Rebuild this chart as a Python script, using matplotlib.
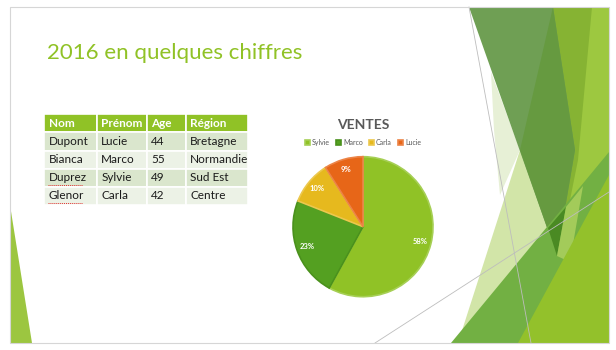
import matplotlib
matplotlib.use('Agg')
import matplotlib.pyplot as plt
from matplotlib.patches import Polygon, Rectangle

plt.rcParams['font.family'] = ['Lato', 'DejaVu Sans']

# slide content
titre = '2016 en quelques chiffres'
colonnes = ['Nom', 'Prénom', 'Age', 'Région']
noms = ['Dupont', 'Bianca', 'Duprez', 'Glenor']
prenoms = ['Lucie', 'Marco', 'Sylvie', 'Carla']
ages = [44, 55, 49, 42]
regions = ['Bretagne', 'Normandie', 'Sud Est', 'Centre']

vendeurs = ['Sylvie', 'Marco', 'Carla', 'Lucie']
ventes = [58, 23, 10, 9]
couleurs = ['#90C226', '#54A021', '#E6B91E', '#E76618']
bords = ['#a6cf55', '#4a911c', '#ecc84e', '#ec8447']

W, H = 616, 350
fig = plt.figure(figsize=(W / 100, H / 100), dpi=100)
fig.patch.set_facecolor('white')

# background axes in pixel units (y down)
ax = fig.add_axes([0, 0, 1, 1])
ax.set_xlim(0, W)
ax.set_ylim(H, 0)
ax.axis('off')

# facet theme decoration
facettes = [
	('#9dc840', [(549, 7), (609, 7), (609, 343), (520, 343)]),
	('#86b333', [(549, 7), (592, 7), (578, 160), (560, 250)]),
	('#d2e5a8', [(520, 150), (562, 262), (522, 343), (458, 343)]),
	('#e7f0d6', [(491, 72), (520, 150), (500, 195), (494, 130)]),
	('#6f9f54', [(469, 7), (553, 7), (575, 150), (557, 256)]),
	('#669a40', [(553, 7), (520, 150), (557, 256), (575, 150)]),
	('#72b043', [(451, 343), (609, 152), (609, 343)]),
	('#4a8a23', [(548, 228), (566, 207), (557, 256)]),
	('#a3cb5a', [(566, 207), (583, 186), (570, 262), (557, 256)]),
	('#93c12b', [(518, 343), (609, 175), (609, 343)]),
	('#9cc640', [(10, 205), (32, 343), (10, 343)]),
]
for c, pts in facettes:
	ax.add_patch(Polygon(pts, closed=True, facecolor=c, edgecolor='none', zorder=1))

for (x0, y0), (x1, y1) in [((469, 7), (531, 343)), ((375, 343), (609, 192))]:
	ax.plot([x0, x1], [y0, y1], color='#bdbdbd', lw=0.6, zorder=2)

ax.add_patch(Rectangle((9.5, 6.5), 599.5, 336.5, fill=False, edgecolor='#d6d6d6', lw=0.8, zorder=3))

# title
ax.text(47, 53, titre, fontsize=16, color='#90C226', va='center', ha='left', zorder=4)

# table
cell_text = [[n, p, str(a), r] for n, p, a, r in zip(noms, prenoms, ages, regions)]
larg = [52.7, 50, 39, 62.6]
x0, y0, x1, y1 = 44, 114.3, 248.3, 205
tab = ax.table(cellText=cell_text, colLabels=colonnes, cellLoc='left', colLoc='left',
               colWidths=larg, bbox=[x0 / W, 1 - y1 / H, (x1 - x0) / W, (y1 - y0) / H])
tab.auto_set_font_size(False)
tab.set_zorder(4)
for (r, c), cell in tab.get_celld().items():
	cell.set_edgecolor('white')
	cell.set_linewidth(1.2)
	cell.PAD = 4.5 / larg[c]
	txt = cell.get_text()
	txt.set_fontsize(8.5)
	if r == 0:
		cell.set_facecolor('#90C226')
		txt.set_color('white')
		txt.set_fontweight('bold')
	else:
		cell.set_facecolor('#dae6cd' if r % 2 == 1 else '#ecf2e6')
		txt.set_color('#1a1a1a')

# spell check squiggles
for xa, xb, y in [(48, 83, 185), (48, 82, 203)]:
	ax.plot([xa, xb], [y, y], color='#e03030', lw=0.7, ls=(0, (1, 1)), zorder=5)

# pie chart
cx, cy, rad = 363, 226.7, 70
k = 1.1
axp = fig.add_axes([(cx - k * rad) / W, (H - cy - k * rad) / H, 2 * k * rad / W, 2 * k * rad / H])
wedges, _, autotexts = axp.pie(ventes, colors=couleurs, startangle=90, counterclock=False,
                               autopct='%.0f%%', pctdistance=0.85,
                               textprops=dict(color='white', fontsize=5.5, fontweight='bold'),
                               wedgeprops=dict(linewidth=1.2))
for w, b in zip(wedges, bords):
	w.set_edgecolor(b)
axp.set_xlim(-k, k)
axp.set_ylim(-k, k)
axp.set_aspect('auto')
axp.patch.set_alpha(0)

haut = 2 * k * rad
bas = cy + k * rad
axp.text(0.5, (bas - 125) / haut, 'VENTES', transform=axp.transAxes, ha='center', va='center',
         fontsize=10, fontweight='bold', color='#595959')
axp.legend(wedges, vendeurs, ncol=4, loc='center', bbox_to_anchor=(0.5, (bas - 142.7) / haut),
           frameon=False, fontsize=5, handlelength=0.7, handleheight=0.7, columnspacing=0.9,
           handletextpad=0.3, labelcolor='#595959', borderaxespad=0)

fig.savefig('out.png', dpi=100, facecolor='white')
